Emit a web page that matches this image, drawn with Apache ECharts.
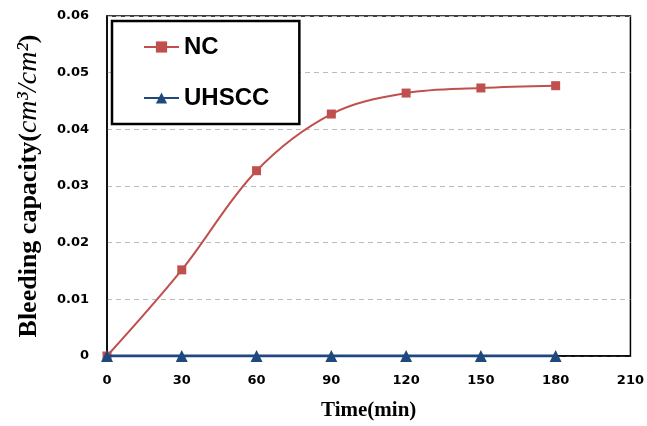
<!DOCTYPE html>
<html><head><meta charset="utf-8">
<script src="https://cdn.jsdelivr.net/npm/echarts@6/dist/echarts.min.js"></script>
<style>html,body{margin:0;padding:0;background:#fff}#c{width:647px;height:426px}</style>
</head><body><div id="c"></div>
<script>
const times = [0, 30, 60, 90, 120, 150, 180];
const ncValues = [0, 0.0152, 0.0327, 0.0427, 0.0464, 0.0473, 0.0477];
const uhsccValues = [0, 0, 0, 0, 0, 0, 0];
const xTicks = [0, 30, 60, 90, 120, 150, 180, 210];
const yTicks = [0, 0.01, 0.02, 0.03, 0.04, 0.05, 0.06];

const chart = echarts.init(document.getElementById('c'));
chart.setOption({
  animation: false,
  grid: {left: 107, right: 15, top: 16, bottom: 70, show: true, borderColor: '#000', borderWidth: 1.5, backgroundColor: 'transparent'},
  legend: {
    orient: 'vertical', left: 112, top: 21,
    padding: [14, 30, 14, 31], itemGap: 27, itemWidth: 35, itemHeight: 14,
    backgroundColor: '#fff', borderColor: '#000', borderWidth: 2.5,
    textStyle: {fontFamily: 'Liberation Sans', fontWeight: 'bold', fontSize: 24, lineHeight: 24, color: '#000'},
    data: ['NC', 'UHSCC']
  },
  xAxis: {
    type: 'value', min: 0, max: 210, interval: 30,
    name: 'Time(min)', nameLocation: 'middle', nameGap: 44,
    nameTextStyle: {fontFamily: 'Liberation Serif', fontWeight: 'bold', fontSize: 21, color: '#000'},
    axisLine: {lineStyle: {color: '#000', width: 1.5}},
    axisTick: {show: false},
    splitLine: {show: false},
    axisLabel: {fontFamily: 'DejaVu Sans', fontWeight: 'bold', fontSize: 13, color: '#000', margin: 18,
      formatter: v => xTicks.includes(v) ? String(v) : ''}
  },
  yAxis: {
    type: 'value', min: 0, max: 0.06, interval: 0.01,
    name: '{b|Bleeding capacity(}{i|cm³/cm²}{b|)}', nameLocation: 'middle', nameGap: 64, nameRotate: 90,
    nameTextStyle: {rich: {
      b: {fontFamily: 'Liberation Serif', fontWeight: 'bold', fontSize: 26, color: '#000'},
      i: {fontFamily: 'Liberation Serif', fontStyle: 'italic', fontSize: 28, color: '#000'}
    }},
    axisLine: {show: true, lineStyle: {color: '#000', width: 1.5}},
    axisTick: {show: false},
    splitLine: {show: true, lineStyle: {color: '#bbb', type: [5, 4], width: 1}},
    axisLabel: {fontFamily: 'DejaVu Sans', fontWeight: 'bold', fontSize: 13, color: '#000', margin: 18,
      formatter: v => { const t = yTicks.find(y => Math.abs(y - v) < 1e-9); return t === undefined ? '' : (t === 0 ? '0' : t.toFixed(2)); }}
  },
  series: [
    {name: 'NC', type: 'line', smooth: 0.35, data: times.map((t, i) => [t, ncValues[i]]),
     symbol: 'rect', symbolSize: 9, lineStyle: {color: '#C0504D', width: 2}, itemStyle: {color: '#C0504D'}, z: 3},
    {name: 'UHSCC', type: 'line', data: times.map((t, i) => [t, uhsccValues[i]]),
     symbol: 'triangle', symbolSize: 12, lineStyle: {color: '#1F497D', width: 3}, itemStyle: {color: '#1F497D'}, z: 4}
  ]
});
</script></body></html>
